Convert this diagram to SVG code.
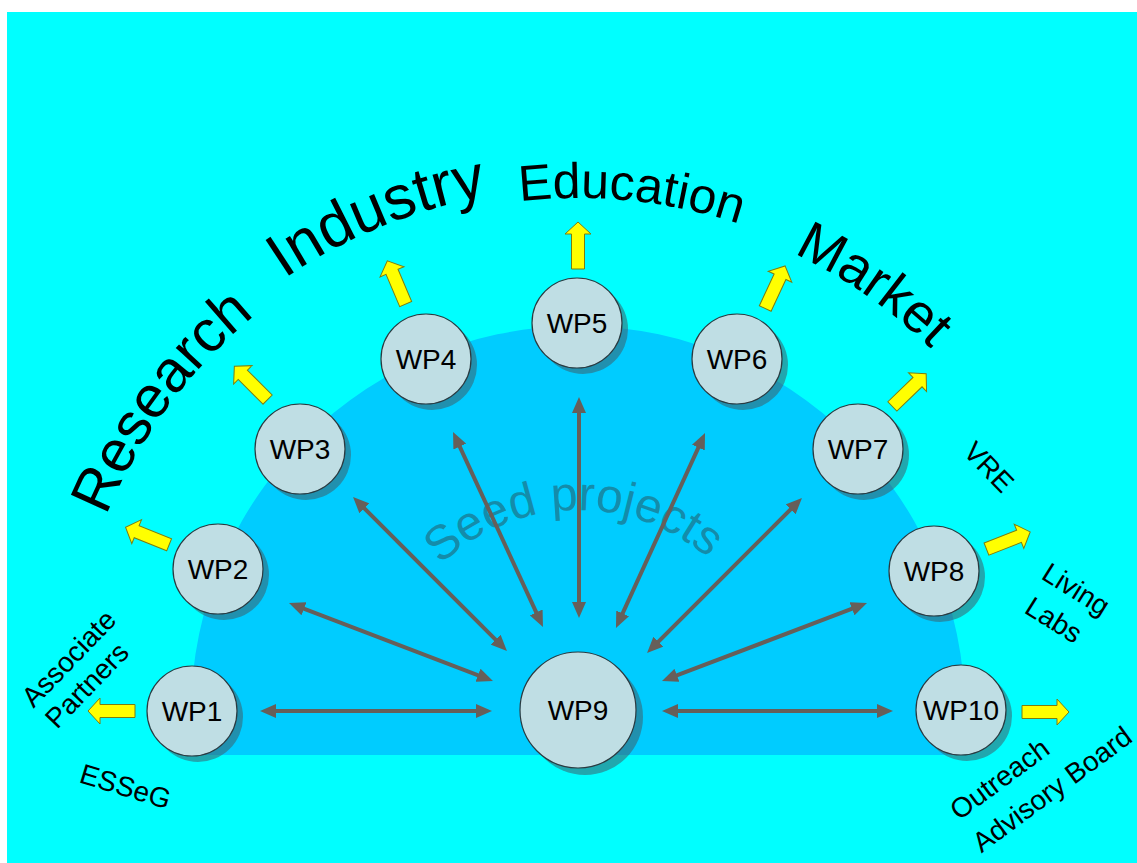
<svg xmlns="http://www.w3.org/2000/svg" xmlns:xlink="http://www.w3.org/1999/xlink" width="1137" height="863" viewBox="0 0 1137 863">
<style>
.node{fill:#BFDEE4;stroke:#2b3a40;stroke-width:1.2}
.shadow{fill:#3d5f6b;fill-opacity:0.55}
.wp{font-family:"Liberation Sans",Arial,sans-serif;font-size:28px;fill:#000;text-anchor:middle}
.lbl{font-family:"Liberation Sans",Arial,sans-serif;font-size:28px;fill:#000}
.title{font-family:"Liberation Sans",Arial,sans-serif;fill:#000;text-anchor:middle}
.conn{stroke:#665f5a;stroke-width:4;fill:none;marker-start:url(#ah);marker-end:url(#ah)}
.yarrow{fill:#FFFF00;stroke:#7d7d10;stroke-width:1}
</style>
<defs>
<marker id="ah" markerUnits="userSpaceOnUse" markerWidth="16" markerHeight="14" refX="8" refY="7" orient="auto-start-reverse">
<path d="M0,0 L16,7 L0,14 Z" fill="#665f5a"/>
</marker>
<path id="ya" d="M0,-6.5 H35 V-13 L47,0 L35,13 V6.5 H0 Z"/>
<path id="arcResearch" d="M68,710 A510,510 0 0 1 1088,710"/>
<path id="arcIndustry" d="M56,710 A522,522 0 0 1 1100,710"/>
<path id="arcEducation" d="M66,710 A512,512 0 0 1 1090,710"/>
<path id="arcMarket" d="M73,710 A505,505 0 0 1 1083,710"/>
<path id="arcSeed" d="M378,710 A200,200 0 0 1 778,710"/>
</defs>

<rect x="0" y="0" width="1137" height="863" fill="#FFFFFF"/>
<rect x="7" y="12" width="1130" height="851" fill="#00FFFF"/>

<path id="seed-area" d="M193.3,755 A387,387 0 1 1 962.7,755 Z" fill="#00CCFF"/>
<text class="title" font-size="48" style="fill:#148CAA"><textPath href="#arcSeed" startOffset="309">Seed projects</textPath></text>

<g id="titles">
<text class="title" font-size="59"><textPath href="#arcResearch" startOffset="325">Research</textPath></text>
<text class="title" font-size="62"><textPath href="#arcIndustry" startOffset="618">Industry</textPath></text>
<text class="title" font-size="50"><textPath href="#arcEducation" startOffset="857">Education</textPath></text>
<text class="title" font-size="55"><textPath href="#arcMarket" startOffset="1100">Market</textPath></text>
</g>

<g id="connectors">
<line class="conn" x1="268" y1="711" x2="484" y2="711"/>
<line class="conn" x1="296.5" y1="605.9" x2="485.5" y2="678.1"/>
<line class="conn" x1="358.7" y1="502.7" x2="501.3" y2="645.3"/>
<line class="conn" x1="456.4" y1="439.3" x2="539.6" y2="619.7"/>
<line class="conn" x1="579" y1="405" x2="579" y2="610"/>
<line class="conn" x1="701.7" y1="440.3" x2="619.3" y2="620.7"/>
<line class="conn" x1="796.3" y1="503.7" x2="652.7" y2="647.3"/>
<line class="conn" x1="859.5" y1="605.9" x2="669.5" y2="678.2"/>
<line class="conn" x1="885" y1="711" x2="670" y2="711"/>
</g>

<g id="output-arrows">
<use href="#ya" class="yarrow" transform="translate(578,711) rotate(-180) translate(443,0)"/>
<use href="#ya" class="yarrow" transform="translate(578,710) rotate(-158) translate(441,0)"/>
<use href="#ya" class="yarrow" transform="translate(578,710) rotate(-135) translate(439,0)"/>
<use href="#ya" class="yarrow" transform="translate(578,710) rotate(-113) translate(441,0)"/>
<use href="#ya" class="yarrow" transform="translate(578,710) rotate(-90) translate(441,0)"/>
<use href="#ya" class="yarrow" transform="translate(578,710) rotate(-65) translate(443,0)"/>
<use href="#ya" class="yarrow" transform="translate(578,710) rotate(-44) translate(437,0)"/>
<use href="#ya" class="yarrow" transform="translate(578,710) rotate(-21.5) translate(439,0)"/>
<use href="#ya" class="yarrow" transform="translate(578,712) rotate(0) translate(444,0)"/>
</g>

<g id="WP1"><circle class="shadow" cx="198" cy="717" r="45"/><circle class="node" cx="192" cy="711" r="45"/><text class="wp" x="192" y="721">WP1</text></g>
<g id="WP2"><circle class="shadow" cx="224" cy="575" r="45"/><circle class="node" cx="218" cy="569" r="45"/><text class="wp" x="218" y="579">WP2</text></g>
<g id="WP3"><circle class="shadow" cx="306" cy="455" r="45"/><circle class="node" cx="300" cy="449" r="45"/><text class="wp" x="300" y="459">WP3</text></g>
<g id="WP4"><circle class="shadow" cx="432" cy="365" r="45"/><circle class="node" cx="426" cy="359" r="45"/><text class="wp" x="426" y="369">WP4</text></g>
<g id="WP5"><circle class="shadow" cx="583" cy="329" r="45"/><circle class="node" cx="577" cy="323" r="45"/><text class="wp" x="577" y="333">WP5</text></g>
<g id="WP6"><circle class="shadow" cx="743" cy="365" r="45"/><circle class="node" cx="737" cy="359" r="45"/><text class="wp" x="737" y="369">WP6</text></g>
<g id="WP7"><circle class="shadow" cx="864" cy="455" r="45"/><circle class="node" cx="858" cy="449" r="45"/><text class="wp" x="858" y="459">WP7</text></g>
<g id="WP8"><circle class="shadow" cx="940" cy="577" r="45"/><circle class="node" cx="934" cy="571" r="45"/><text class="wp" x="934" y="581">WP8</text></g>
<g id="WP9"><circle class="shadow" cx="585" cy="717" r="58"/><circle class="node" cx="578" cy="710" r="58"/><text class="wp" x="578" y="720">WP9</text></g>
<g id="WP10"><circle class="shadow" cx="967" cy="716" r="45"/><circle class="node" cx="961" cy="710" r="45"/><text class="wp" x="961" y="720">WP10</text></g>

<g id="side-labels">
<text class="lbl" x="33.5" y="708.7" transform="rotate(-46 33.5 708.7)">Associate</text>
<text class="lbl" x="57" y="730" transform="rotate(-46 57 730)">Partners</text>
<text class="lbl" x="78" y="782" transform="rotate(17 78 782)">ESSeG</text>
<text class="lbl" x="962" y="453" transform="rotate(46 962 453)">VRE</text>
<text class="lbl" x="1040" y="578" transform="rotate(32 1040 578)">Living</text>
<text class="lbl" x="1023" y="612" transform="rotate(32 1023 612)">Labs</text>
<text class="lbl" x="959" y="821" transform="rotate(-36.5 959 821)">Outreach</text>
<text class="lbl" x="981.5" y="853.5" transform="rotate(-36.5 981.5 853.5)">Advisory Board</text>
</g>
</svg>
